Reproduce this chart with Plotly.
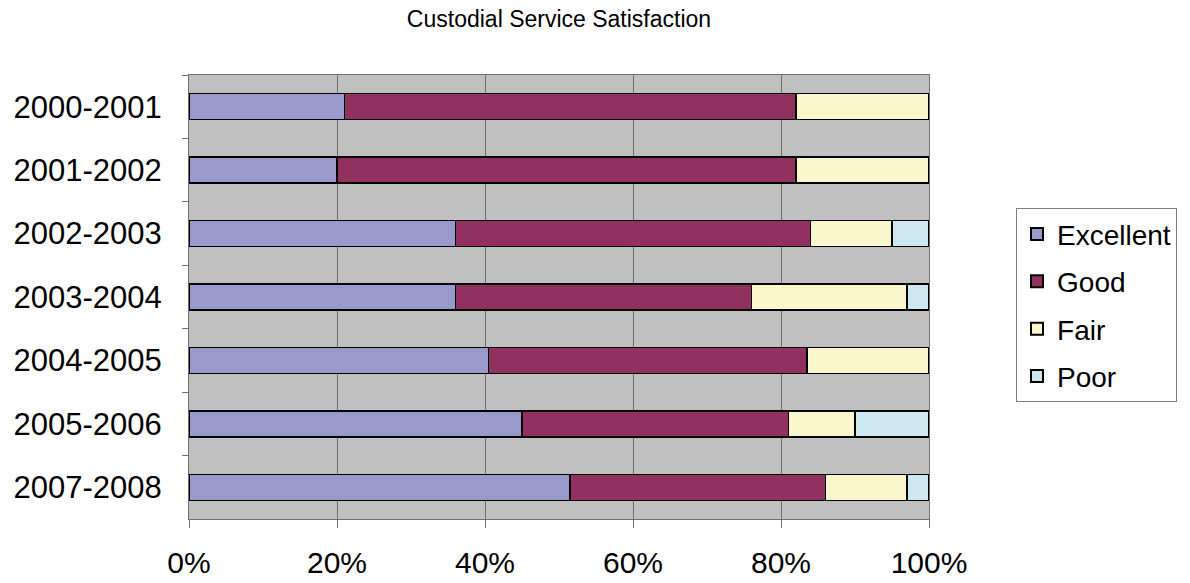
import plotly.graph_objects as go

years = ["2000-2001", "2001-2002", "2002-2003", "2003-2004", "2004-2005", "2005-2006", "2007-2008"]
excellent = [21, 20, 36, 36, 40.5, 45, 51.5]
good = [61, 62, 48, 40, 43, 36, 34.5]
fair = [18, 18, 11, 21, 16.5, 9, 11]
poor = [0, 0, 5, 3, 0, 10, 3]

series = [
    ("Excellent", excellent, "#9999CC"),
    ("Good", good, "#913160"),
    ("Fair", fair, "#FAF7CD"),
    ("Poor", poor, "#CDE9EF"),
]

fig = go.Figure()
for name, vals, color in series:
    fig.add_trace(go.Bar(
        y=years, x=vals, name=name, orientation="h", legendgroup=name,
        marker=dict(color=color, line=dict(color="black", width=1.5)),
    ))

fig.update_layout(
    barmode="stack",
    bargap=0.59,
    width=1190, height=583,
    margin=dict(l=189, r=261, t=75, b=64),
    paper_bgcolor="white",
    plot_bgcolor="#C0C0C0",
    font=dict(family="Liberation Sans, Arial, sans-serif", color="black"),
    title=dict(text="Custodial Service Satisfaction", x=0.5, xref="paper", y=0.967, yanchor="middle",
               font=dict(size=23)),
    legend=dict(x=1.1176, y=0.7, xanchor="left", yanchor="top",
                bordercolor="#808080", borderwidth=1, bgcolor="white",
                font=dict(size=28), traceorder="grouped", itemsizing="constant",
                tracegroupgap=8),
    xaxis=dict(range=[0, 100], tickvals=[0, 20, 40, 60, 80, 100],
               ticktext=["0%", "20%", "40%", "60%", "80%", "100%"],
               showgrid=True, gridcolor="#707070", gridwidth=1,
               ticks="outside", ticklen=8, tickcolor="#707070",
               tickfont=dict(size=30), showline=True, linecolor="#707070",
               mirror=True, zeroline=False, ticklabelstandoff=9, automargin=False),
    yaxis=dict(autorange="reversed", tickfont=dict(size=31),
               ticks="outside", tickson="boundaries", ticklen=6, tickcolor="#707070",
               showline=True, linecolor="#707070", mirror=True, showgrid=False,
               ticklabelstandoff=20, automargin=False),
)

fig.write_html("out.html")
